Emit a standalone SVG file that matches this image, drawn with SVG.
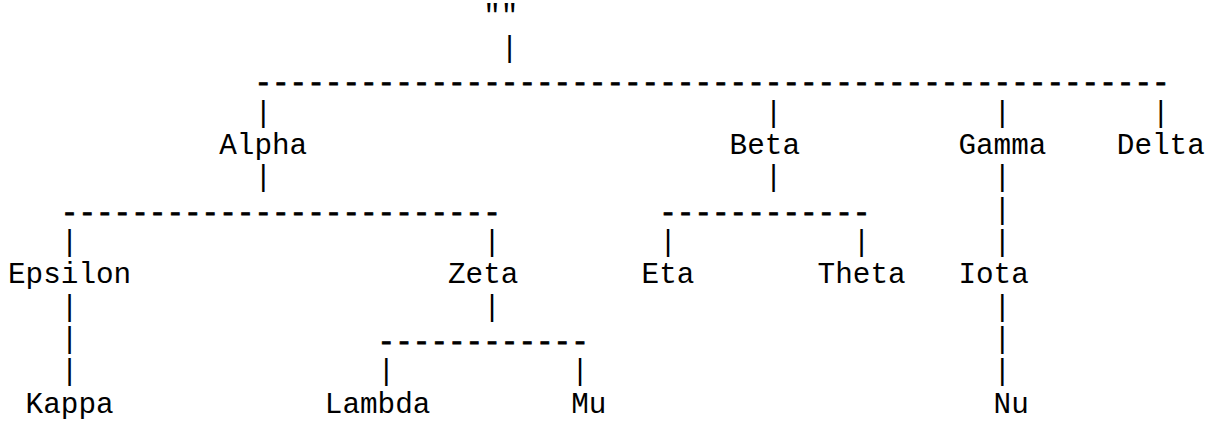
<svg xmlns="http://www.w3.org/2000/svg" width="1212" height="423" viewBox="0 0 1212 423">
<style>
text{font-family:"Liberation Mono","Courier New",monospace;font-size:29.333px;fill:#000;white-space:pre}
.dash{stroke:#000;stroke-width:0.8}
</style>
<rect width="1212" height="423" fill="#fff"/>
<g id="connectors">
<text x="500.8" y="56.85">|</text>
<text class="dash" x="254.4" y="92.2">----------------------------------------------------</text>
<text x="254.4" y="121.55">|</text>
<text x="764.8" y="121.55">|</text>
<text x="993.6" y="121.55">|</text>
<text x="1152" y="121.55">|</text>
<text x="254.4" y="186.25">|</text>
<text x="764.8" y="186.25">|</text>
<text x="993.6" y="186.25">|</text>
<text class="dash" x="60.8" y="221.6">-------------------------</text>
<text class="dash" x="659.2" y="221.6">------------</text>
<text x="993.6" y="218.6">|</text>
<text x="60.8" y="250.95">|</text>
<text x="483.2" y="250.95">|</text>
<text x="659.2" y="250.95">|</text>
<text x="852.8" y="250.95">|</text>
<text x="993.6" y="250.95">|</text>
<text x="60.8" y="315.65">|</text>
<text x="483.2" y="315.65">|</text>
<text x="993.6" y="315.65">|</text>
<text x="60.8" y="348">|</text>
<text class="dash" x="377.6" y="351">------------</text>
<text x="993.6" y="348">|</text>
<text x="60.8" y="380.35">|</text>
<text x="377.6" y="380.35">|</text>
<text x="571.2" y="380.35">|</text>
<text x="993.6" y="380.35">|</text>
</g>
<g id="root"><text x="483.2" y="24.5">""</text></g>
<g id="alpha"><text x="219.2" y="153.9">Alpha</text></g>
<g id="beta"><text x="729.6" y="153.9">Beta</text></g>
<g id="gamma"><text x="958.4" y="153.9">Gamma</text></g>
<g id="delta"><text x="1116.8" y="153.9">Delta</text></g>
<g id="epsilon"><text x="8" y="283.3">Epsilon</text></g>
<g id="zeta"><text x="448" y="283.3">Zeta</text></g>
<g id="eta"><text x="641.6" y="283.3">Eta</text></g>
<g id="theta"><text x="817.6" y="283.3">Theta</text></g>
<g id="iota"><text x="958.4" y="283.3">Iota</text></g>
<g id="kappa"><text x="25.6" y="412.7">Kappa</text></g>
<g id="lambda"><text x="324.8" y="412.7">Lambda</text></g>
<g id="mu"><text x="571.2" y="412.7">Mu</text></g>
<g id="nu"><text x="993.6" y="412.7">Nu</text></g>
</svg>
